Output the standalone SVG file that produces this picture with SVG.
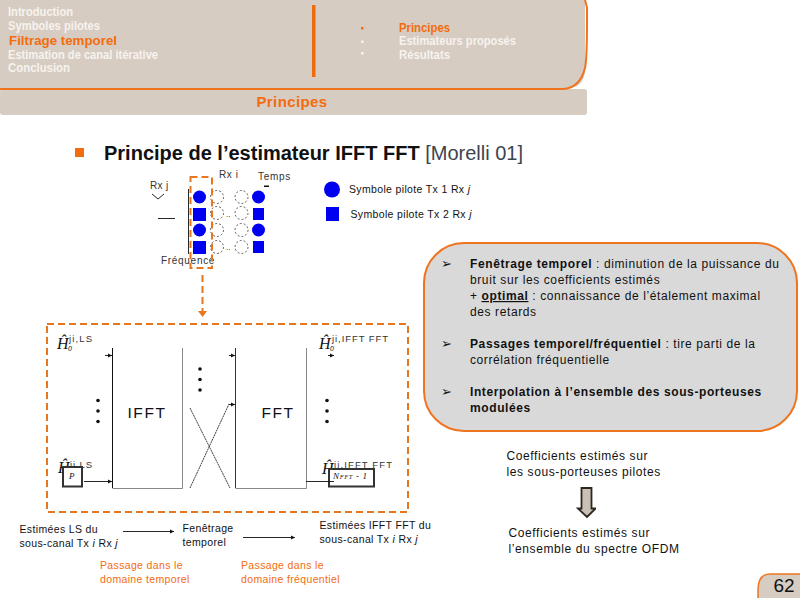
<svg xmlns="http://www.w3.org/2000/svg" width="800" height="600" viewBox="0 0 800 600">
<style>
text{font-family:"Liberation Sans",Arial,sans-serif;fill:#111}
.h{font-size:12px;font-weight:bold;fill:#f6f3ee}
.s{font-size:10.5px;letter-spacing:.35px}
.b{font-size:12px;letter-spacing:.6px}
.t{font-weight:bold}
.d{fill:none;stroke:#e8761f;stroke-width:2;stroke-dasharray:7 4}
.p{fill:#0000f0}
.c{fill:#fff;stroke:#222;stroke-width:.7;stroke-dasharray:2 2}
.l{stroke:#111;stroke-width:.9;fill:none}
.m{font-family:"Liberation Serif",serif;font-style:italic;font-size:16px}
.u{font-size:9.500px;fill:#333}
.dot{fill:#111}
.or{fill:#f36c10}
</style>
<defs>
<marker id="a" markerWidth="6" markerHeight="6" refX="5" refY="3" orient="auto"><path d="M0 .5L5 3L0 5.500z" fill="#111"/></marker>
</defs>

<g id="header">
<path d="M0 0H585V70Q585 89 563 89H0z" fill="#d6ccc2"/>
<rect y="89" width="587" height="26" rx="3" fill="#d6ccc2"/>
<path d="M0 89H563Q580 88 585 68Q587 60 587 20V8Q586 3 585 0" fill="none" stroke="#ee7420" stroke-width="2"/>
<rect x="312" y="5" width="3.500" height="72" fill="#f06a10"/>
<text class="h" x="8" y="16" textLength="65" lengthAdjust="spacingAndGlyphs">Introduction</text>
<text class="h" x="8" y="30" textLength="92" lengthAdjust="spacingAndGlyphs">Symboles pilotes</text>
<text class="h or" x="9" y="45" style="font-size:13.500px" textLength="108" lengthAdjust="spacingAndGlyphs">Filtrage temporel</text>
<text class="h" x="8" y="59" textLength="150" lengthAdjust="spacingAndGlyphs">Estimation de canal itérative</text>
<text class="h" x="8" y="72" textLength="62" lengthAdjust="spacingAndGlyphs">Conclusion</text>
<rect x="361" y="27" width="2.500" height="2.500" fill="#f36c10"/>
<rect x="361" y="40.500" width="2.500" height="2.500" fill="#f6f3ee"/>
<rect x="361" y="52" width="2.500" height="2.500" fill="#f6f3ee"/>
<text class="h or" x="399" y="32" textLength="51" lengthAdjust="spacingAndGlyphs">Principes</text>
<text class="h" x="399" y="45" textLength="117" lengthAdjust="spacingAndGlyphs">Estimateurs proposés</text>
<text class="h" x="399" y="59" textLength="51" lengthAdjust="spacingAndGlyphs">Résultats</text>
<text class="or" x="292" y="107" text-anchor="middle" font-size="15" font-weight="bold" letter-spacing=".4">Principes</text>
</g>

<g id="title">
<rect x="75" y="148" width="9" height="9" fill="#f36c10"/>
<text x="104" y="160" font-size="20" font-weight="bold">Principe de l’estimateur IFFT FFT <tspan font-weight="normal" style="fill:#3c4450">[Morelli 01]</tspan></text>
</g>

<g id="grid">
<text x="150" y="189" font-size="10" letter-spacing=".3" style="fill:#333">Rx j</text>
<path class="l" d="M152 194L158 199L164 194"/>
<path class="l" d="M158 218.500H175"/>
<path class="l" d="M188.500 189V254"/>
<text x="219" y="178" font-size="10" letter-spacing=".6" style="fill:#333">Rx i</text>
<text x="258" y="180" font-size="10" letter-spacing=".7" style="fill:#333">Temps</text>
<path d="M264 185.500h5v1.500h-5z" fill="#111"/>
<text x="161" y="264" font-size="10" letter-spacing=".7" style="fill:#333">Fréquence</text>
<circle class="p" cx="199.500" cy="197" r="6.500"/>
<rect class="p" x="193" y="208" width="13" height="13"/>
<circle class="p" cx="199.500" cy="230" r="6.500"/>
<rect class="p" x="193" y="241" width="13" height="13"/>
<circle class="c" cx="217" cy="197" r="6.500"/><circle class="c" cx="217" cy="213" r="6.500"/><circle class="c" cx="217" cy="230" r="6.500"/><circle class="c" cx="217" cy="247" r="6.500"/>
<circle class="c" cx="241.500" cy="197" r="6.500"/><circle class="c" cx="241.500" cy="213" r="6.500"/><circle class="c" cx="241.500" cy="230" r="6.500"/><circle class="c" cx="241.500" cy="247" r="6.500"/>
<circle class="p" cx="258.500" cy="197" r="6.500"/>
<rect class="p" x="253" y="208" width="11" height="12"/>
<circle class="p" cx="258.500" cy="230" r="6.500"/>
<rect class="p" x="253" y="241" width="11" height="12"/>
<text x="226" y="217" font-size="8">..</text><text x="226" y="250" font-size="8">..</text>
<rect class="d" x="190.500" y="177" width="21.500" height="91"/>
<path class="d" d="M202.500 275V311"/>
<path d="M198 311H207L202.500 317z" fill="#e8761f"/>
</g>

<g id="legend">
<circle class="p" cx="332" cy="189.500" r="8"/>
<rect class="p" x="326" y="207" width="13" height="14"/>
<text class="s" x="349" y="193">Symbole pilote Tx 1 Rx <tspan font-style="italic">j</tspan></text>
<text class="s" x="350.500" y="218">Symbole pilote Tx 2 Rx <tspan font-style="italic">j</tspan></text>
</g>

<g id="note">
<rect x="424" y="243" width="373" height="188" rx="40" fill="#d9d9d9" stroke="#ee7420" stroke-width="2"/>
<text x="441" y="268" font-size="13">➢</text>
<text x="441" y="348" font-size="13">➢</text>
<text x="441" y="396" font-size="13">➢</text>
<text class="b" x="470" y="268"><tspan class="t">Fenêtrage temporel</tspan> : diminution de la puissance du</text>
<text class="b" x="470" y="284">bruit sur les coefficients estimés</text>
<text class="b" x="470" y="300">+ <tspan class="t" text-decoration="underline">optimal</tspan> : connaissance de l’étalement maximal</text>
<text class="b" x="470" y="316">des retards</text>
<text class="b" x="470" y="348"><tspan class="t">Passages temporel/fréquentiel</tspan> : tire parti de la</text>
<text class="b" x="470" y="364">corrélation fréquentielle</text>
<text class="b t" x="470" y="396">Interpolation à l’ensemble des sous-porteuses</text>
<text class="b t" x="470" y="412">modulées</text>
</g>

<g id="block">
<rect class="d" x="47" y="324" width="361" height="188"/>
</g>
<g id="ifft">
<path d="M112.500 348V488" stroke="#111" stroke-width="1" fill="none"/>
<path d="M112.500 488.500H182.500V348" stroke="#888" stroke-width="1" fill="none"/>
<text x="147" y="418" font-size="15.500" text-anchor="middle" letter-spacing="1.600">IFFT</text>
</g>
<g id="fft">
<path d="M235.500 348V488" stroke="#333" stroke-width="1" fill="none"/>
<path d="M235.500 488.500H306.500V348" stroke="#888" stroke-width="1" fill="none"/>
<text x="278" y="418" font-size="15.500" text-anchor="middle" letter-spacing="1.600">FFT</text>
</g>
<g id="labels">
<text class="m" x="57" y="349">Ĥ</text><text class="u" x="69" y="342" textLength="23">ji,LS</text><text x="68" y="351" font-size="7" font-style="italic">0</text>
<text class="m" x="58" y="473">Ĥ</text><text class="u" x="70" y="468" textLength="22">ji,LS</text>
<rect x="63" y="467" width="19" height="19.500" fill="#fff" stroke="#333" stroke-width="2"/>
<text x="69" y="479" font-size="9" style="font-family:'Liberation Serif',serif;font-style:italic">P</text>
<text class="m" x="319" y="349">Ĥ</text><text class="u" x="332" y="342" textLength="56">ji,IFFT FFT</text><text x="330" y="351" font-size="7" font-style="italic">0</text>
<text class="m" x="322" y="474">Ĥ</text><text class="u" x="334" y="468" textLength="58">ji,IFFT FFT</text>
<rect x="329" y="469" width="45" height="17.500" fill="#fff" stroke="#333" stroke-width="2"/>
<text x="333" y="479" font-size="9" textLength="34" style="font-family:'Liberation Serif',serif;font-style:italic">N<tspan font-size="6.500">FFT</tspan> - 1</text>
</g>
<g id="connectors">
<path class="l" d="M105 355.500H112" marker-end="url(#a)"/>
<path class="l" d="M84 481.500H112" marker-end="url(#a)"/>
<path class="l" d="M229 355.500H235" marker-end="url(#a)"/>
<path class="l" d="M229 404.500H235" marker-end="url(#a)"/>
<path class="l" d="M306 481.500H334" />
<path class="l" d="M328 355.500H334" marker-end="url(#a)"/>
<path d="M190 408L230 488M190 488L229 404" fill="none" stroke="#111" stroke-width=".8" stroke-dasharray="2 .6"/>
<path class="l" d="M123 531.500H174" marker-end="url(#a)"/>
<path class="l" d="M243 537.500H295" marker-end="url(#a)"/>
<circle class="dot" cx="98" cy="400.500" r="1.800"/><circle class="dot" cx="98" cy="411" r="1.800"/><circle class="dot" cx="98" cy="421.500" r="1.800"/>
<circle class="dot" cx="200" cy="369" r="1.800"/><circle class="dot" cx="200" cy="379.500" r="1.800"/><circle class="dot" cx="200" cy="390" r="1.800"/>
<circle class="dot" cx="327" cy="400.500" r="1.800"/><circle class="dot" cx="327" cy="411" r="1.800"/><circle class="dot" cx="327" cy="421.500" r="1.800"/>
</g>

<g id="captions">
<text class="s" x="19.500" y="533">Estimées LS du</text>
<text class="s" x="19.500" y="547">sous-canal Tx <tspan font-style="italic">i</tspan> Rx <tspan font-style="italic">j</tspan></text>
<text class="s" x="182.500" y="532">Fenêtrage</text>
<text class="s" x="182.500" y="546">temporel</text>
<text class="s" x="319.500" y="529">Estimées IFFT FFT du</text>
<text class="s" x="319.500" y="543">sous-canal Tx <tspan font-style="italic">i</tspan> Rx <tspan font-style="italic">j</tspan></text>
<text class="s or" x="100" y="569">Passage dans le</text>
<text class="s or" x="100" y="583">domaine temporel</text>
<text class="s or" x="241" y="569">Passage dans le</text>
<text class="s or" x="241" y="583">domaine fréquentiel</text>
</g>

<g id="spectre">
<text class="b" x="506.500" y="460">Coefficients estimés sur</text>
<text class="b" x="506.500" y="476">les sous-porteuses pilotes</text>
<path d="M581.500 488H591.500V508.500H596H595.500L587 517L578 508.500H581.500z" fill="#c9c0b6" stroke="#2c2820" stroke-width="1.800"/>
<text class="b" x="508.500" y="537">Coefficients estimés sur</text>
<text class="b" x="508.500" y="553">l’ensemble du spectre OFDM</text>
</g>

<g id="page">
<path d="M800 574H770Q758 574 758 590V598H800z" fill="#d6ccc2"/>
<path d="M800 574H770Q758 574 758 590V598" fill="none" stroke="#ee7420" stroke-width="1.500"/>
<text x="784" y="592" font-size="19" text-anchor="middle">62</text>
</g>
</svg>
